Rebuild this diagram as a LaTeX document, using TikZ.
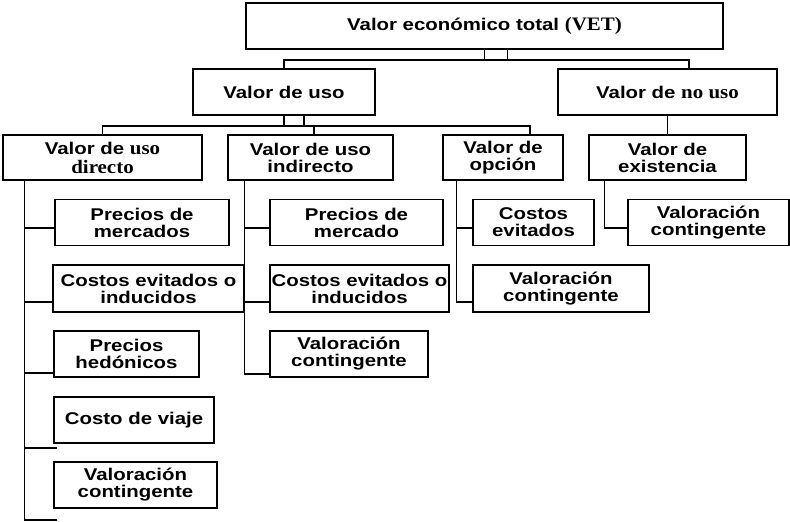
\documentclass[tikz,border=0pt]{standalone}
\usepackage{fontspec}
\setmainfont[FakeStretch=1.2]{Liberation Sans}
\newfontfamily\timesbf[FakeStretch=1.1,Scale=1.12]{Liberation Serif}
\begin{document}
\begin{tikzpicture}[x=1pt,y=-1pt,
    box/.style={rectangle,draw,line width=1.5pt,inner sep=0pt,minimum height=46pt,
      align=center,font=\fontsize{17}{17}\selectfont\bfseries},
    link/.style={line width=1.5pt}]
      \useasboundingbox (0,0) rectangle (790,522);

      \path (484.5,26) node [box,minimum width=477pt](vet){Valor económico total {\timesbf(VET)}};
      \path (284,92) node [box,minimum width=182pt](uso){Valor de uso};
      \path (667.5,92) node [box,minimum width=219pt](nouso){Valor de {\timesbf no uso}};

      \path (102.5,157.5) node [box,minimum width=199pt,minimum height=45pt,
        font=\fontsize{17}{19}\selectfont\bfseries](directo){Valor de {\timesbf uso}\\{\timesbf directo}};
      \path (310.5,157.5) node [box,minimum width=165pt,minimum height=45pt](indirecto){Valor de uso\\indirecto};
      \path (503,157.5) node [box,minimum width=120pt,minimum height=45pt](opcion){Valor de\\opción};
      \path (667.5,157.5) node [box,minimum width=157pt,minimum height=45pt](existencia){Valor de\\existencia};

      \path (142,222.5) node [box,minimum width=174pt](dir_a){Precios de\\mercados};
      \path (148.5,288.5) node [box,minimum width=191pt,minimum height=47pt](dir_b){Costos evitados o\\inducidos};
      \path (126.5,354) node [box,minimum width=145pt](dir_c){Precios\\hedónicos};
      \path (134,420) node [box,minimum width=160pt](dir_d){Costo de viaje};
      \path (135.5,485) node [box,minimum width=163pt](dir_e){Valoración\\contingente};

      \path (356.5,222.5) node [box,minimum width=173pt](ind_a){Precios de\\mercado};
      \path (359.5,288.5) node [box,minimum width=179pt,minimum height=47pt](ind_b){Costos evitados o\\inducidos};
      \path (349,354) node [box,minimum width=158pt](ind_c){Valoración\\contingente};

      \path (533.5,222.5) node [box,minimum width=121pt](opc_a){Costos\\evitados};
      \path (561,288.5) node [box,minimum width=176pt,minimum height=47pt](opc_b){Valoración\\contingente};

      \path (708.5,222.5) node [box,minimum width=161pt](exi_a){Valoración\\contingente};

      % upper bars
      \coordinate (bar1) at (0,60);
      \coordinate (bar2) at (0,126);
      \draw[link] (vet.south) -- ++(0,11);
      \draw[link] ([xshift=23pt]vet.south) -- ++(0,11);
      \draw[link] (uso.north) -- (uso.north |- bar1) -| ([xshift=21.5pt]nouso.north);
      \draw[link] (uso.south) -- ++(0,11);
      \draw[link] ([xshift=20pt]uso.south) -- ++(0,11);
      \draw[link] (directo.north) -- (directo.north |- bar2) -| ([xshift=27pt]opcion.north);
      \draw[link] ([xshift=3.5pt]indirecto.north) -- ++(0,-9);
      \draw[link] (nouso.south) -- (existencia.north);

      % spines
      \foreach \b/\dy in {dir_a/5.5,dir_b/13.5,dir_c/19}
        \draw[link] ([xshift=22pt]directo.south west) |- ([shift={(0,\dy)}]\b.west);
      \draw[link] ([xshift=22pt]directo.south west) |- ([shift={(4,4)}]dir_d.south west);
      \draw[link] ([xshift=22pt]directo.south west) |- ([shift={(4,11)}]dir_e.south west);
      \foreach \b/\dy in {ind_a/5.5,ind_b/13.5,ind_c/20}
        \draw[link] ([xshift=17pt]indirecto.south west) |- ([shift={(0,\dy)}]\b.west);
      \foreach \b/\dy in {opc_a/5.5,opc_b/13.5}
        \draw[link] ([xshift=14pt]opcion.south west) |- ([shift={(0,\dy)}]\b.west);
      \draw[link] ([xshift=16pt]existencia.south west) |- ([shift={(0,5.5)}]exi_a.west);

    \end{tikzpicture}
\end{document}
